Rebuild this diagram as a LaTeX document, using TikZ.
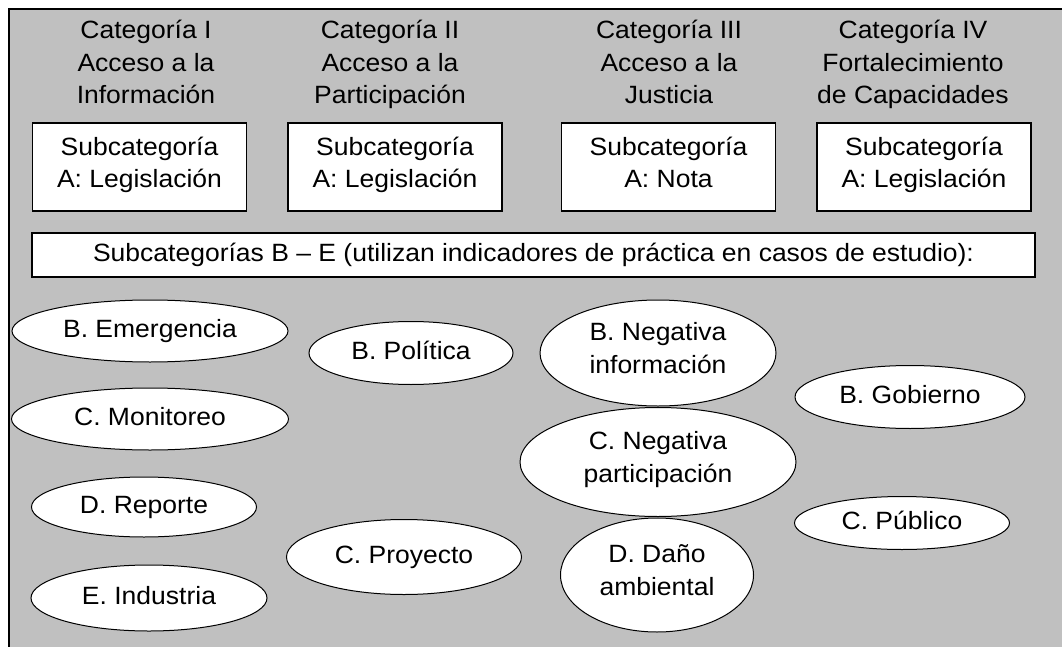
\documentclass[tikz,border=0pt]{standalone}
\usepackage{fontspec}
\setmainfont[FakeStretch=1.06]{Liberation Sans}
\usetikzlibrary{shapes.geometric}
\definecolor{panelgray}{RGB}{192,192,192}

\begin{document}
\begin{tikzpicture}[x=1pt,y=-1pt,
    every node/.style={font=\fontsize{25}{32.5}\selectfont,
                       execute at begin node=\strut,execute at end node=\strut},
    cattext/.style={align=center,inner sep=0pt},
    subbox/.style={draw,line width=1.5pt,fill=white,align=center,inner sep=0pt,
                   minimum width=214pt,minimum height=88pt},
    oval/.style={ellipse,draw,line width=1pt,fill=white,align=center,inner sep=0pt}]
  \useasboundingbox (0,0) rectangle (1062,647);
  \clip (0,0) rectangle (1062,647);
  \draw[line width=1.5pt,fill=panelgray] (9,9) rectangle (1090,680);

  % categories
  \node[cattext] (CI)   at (+146,+67) {Categoría I\\Acceso a la\\Información};
  \node[cattext] (CII)  at (+390,+67) {Categoría II\\Acceso a la\\Participación};
  \node[cattext] (CIII) at (+669,+67) {Categoría III\\Acceso a la\\Justicia};
  \node[cattext] (CIV)  at (+913,+67) {Categoría IV\\Fortalecimiento\\de Capacidades};

  % subcategory A
  \node[subbox] (SAI)   at (+139.5,+167) {Subcategoría\\A: Legislación};
  \node[subbox] (SAII)  at (+395.0,+167) {Subcategoría\\A: Legislación};
  \node[subbox] (SAIII) at (+668.5,+167) {Subcategoría\\A: Nota};
  \node[subbox] (SAIV)  at (+924.0,+167) {Subcategoría\\A: Legislación};

  \node[subbox,minimum width=1003pt,minimum height=44pt] (SBE) at (+533.5,+255)
    {Subcategorías B -- E (utilizan indicadores de práctica en casos de estudio):};

  % subcategories B - E
  \node[oval,minimum width=276pt,minimum height=62pt]  (BE)  at (+150,+331) {B. Emergencia};
  \node[oval,minimum width=277pt,minimum height=62pt]  (CM)  at (+150,+419) {C. Monitoreo};
  \node[oval,minimum width=225pt,minimum height=60pt]  (DR)  at (+144,+507) {D. Reporte};
  \node[oval,minimum width=236pt,minimum height=66pt]  (EI)  at (+149,+598) {E. Industria};

  \node[oval,minimum width=204pt,minimum height=63pt]  (BP)  at (+411,+353) {B. Política};
  \node[oval,minimum width=235pt,minimum height=75pt]  (CP)  at (+404,+557) {C. Proyecto};

  \node[oval,minimum width=236pt,minimum height=106pt] (BNI) at (+658,+353) {B. Negativa\\información};
  \node[oval,minimum width=276pt,minimum height=109pt] (CNP) at (+658,+462) {C. Negativa\\participación};
  \node[oval,minimum width=193pt,minimum height=114pt] (DDA) at (+657,+575) {D. Daño\\ambiental};

  \node[oval,minimum width=230pt,minimum height=63pt]  (BG)  at (+910,+397) {B. Gobierno};
  \node[oval,minimum width=215pt,minimum height=53pt]  (CPU) at (+902,+523) {C. Público};
\end{tikzpicture}
\end{document}
